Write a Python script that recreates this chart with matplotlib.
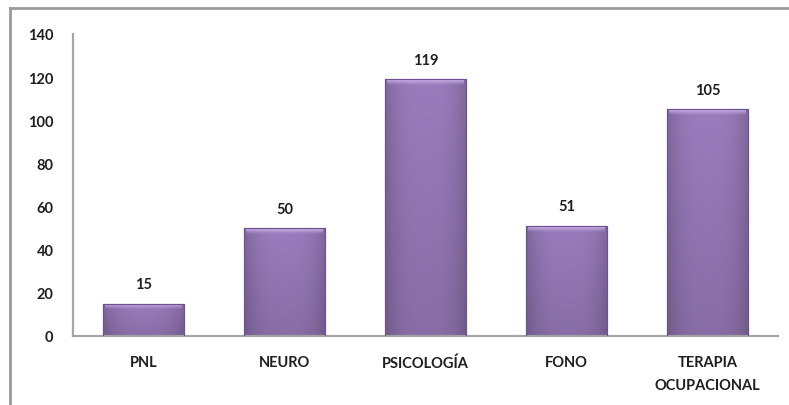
import matplotlib
matplotlib.use("Agg")
import matplotlib.pyplot as plt
import numpy as np
from matplotlib.lines import Line2D

categories = ["PNL", "NEURO", "PSICOLOGÍA", "FONO", "TERAPIA\nOCUPACIONAL"]
values = [15, 50, 119, 51, 105]
yticks = [0, 20, 40, 60, 80, 100, 120, 140]

plt.rcParams["font.family"] = ["Lato", "DejaVu Sans"]

fig = plt.figure(figsize=(7.89, 4.06), dpi=100)
ax = fig.add_axes([0.0925, 0.170, 0.8935, 0.744])

x = np.arange(len(categories))
bars = ax.bar(x, values, width=0.575, color="#8B6BAB", edgecolor="#6E5190", linewidth=0.8, zorder=2)

# soft shading on each bar: slightly darker toward the sides and bottom, light bevel on top
gx = np.linspace(0, 1, 64)
gy = np.linspace(0, 1, 64)
side = 1 - 0.18 * (np.abs(gx - 0.5) * 2) ** 3
vert = 0.88 + 0.12 * gy
base = np.array([0x9A, 0x7C, 0xBC]) / 255.0
for b in bars:
    x0, y0 = b.get_x(), b.get_y()
    w, h = b.get_width(), b.get_height()
    shade = np.outer(vert, side)
    img = np.clip(shade[:, :, None] * base[None, None, :], 0, 1)
    im = ax.imshow(img, extent=[x0, x0 + w, y0, y0 + h], aspect="auto",
                   origin="lower", zorder=2.5, interpolation="bicubic")
    im.set_clip_path(b)
    # top bevel fading downward
    bev = np.linspace(0, 1, 16)[:, None, None] * np.ones((16, 64, 1))
    top = np.dstack([np.full((16, 64), c) for c in (0.80, 0.70, 0.92)] + [0.85 * bev[:, :, 0]])
    ax.imshow(top, extent=[x0 + w * 0.03, x0 + w * 0.97, y0 + h - 2.6, y0 + h - 0.3],
              aspect="auto", origin="lower", zorder=3, interpolation="bicubic")
    ax.add_patch(plt.Rectangle((x0, y0), w, h, facecolor="none",
                               edgecolor="#6E5190", linewidth=0.8, zorder=3.5))

for xi, v in zip(x, values):
    ax.annotate(str(v), (xi, v), xytext=(0, 14), textcoords="offset points",
                ha="center", va="center", fontsize=10.5, fontweight="bold", color="#1F1F1F")

ax.set_xlim(-0.5, len(categories) - 0.5)
ax.set_ylim(0, 140)
ax.set_yticks(yticks)
ax.set_xticks(x)
ax.set_xticklabels(categories, fontsize=10.5, fontweight="bold", color="#1F1F1F", linespacing=1.75)
ax.tick_params(axis="y", length=0, pad=14, labelsize=10.5, labelcolor="#1F1F1F")
ax.tick_params(axis="x", length=0, pad=14)
for lbl in ax.get_yticklabels():
    lbl.set_fontweight("bold")

for s in ["top", "right"]:
    ax.spines[s].set_visible(False)
for s in ["left", "bottom"]:
    ax.spines[s].set_color("#A6A6A6")
    ax.spines[s].set_linewidth(1.6)

# outer chart frame (only top and left edges visible)
fig.add_artist(Line2D([9.5 / 789, 1], [1 - 9 / 406, 1 - 9 / 406], transform=fig.transFigure,
                      color="#9A9A9A", linewidth=2))
fig.add_artist(Line2D([9.5 / 789, 9.5 / 789], [0, 1 - 9 / 406], transform=fig.transFigure,
                      color="#9A9A9A", linewidth=2))

fig.savefig("out.png", dpi=100)
